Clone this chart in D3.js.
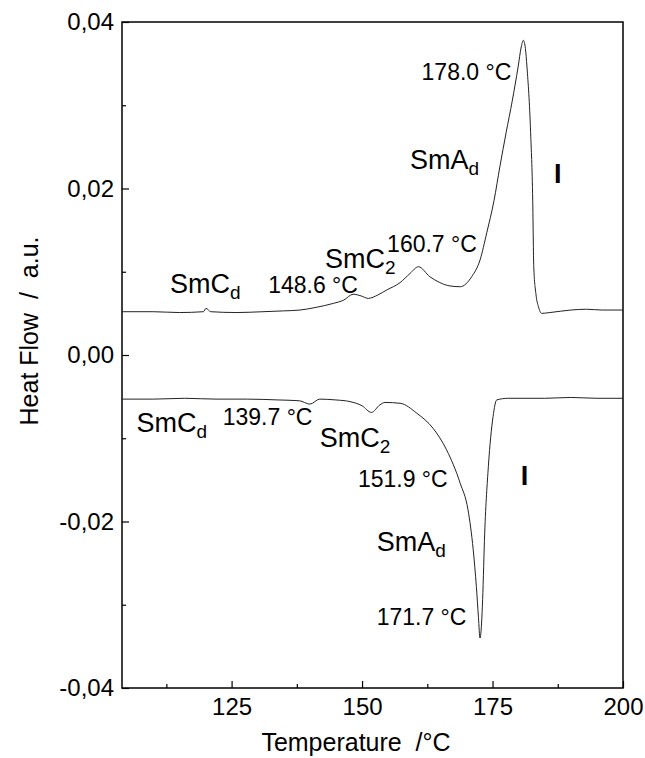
<!DOCTYPE html>
<html>
<head>
<meta charset="utf-8">
<script src="https://cdn.jsdelivr.net/npm/d3@7"></script>
<style>
  body { margin: 0; background: #fff; }
  svg { display: block; }
</style>
</head>
<body>
<div id="chart"></div>
<script>
// heating run (upper trace), [temperature °C, heat flow a.u.]
const heatingT = [104, 110, 115, 119.6, 120.1, 121, 126, 131, 135, 138.1, 141, 144.5, 146.5, 148.3, 149.8, 151.2, 153, 154.7, 157.3, 159.2, 160.8, 163.0, 164.9, 166.8, 168.8, 171.0, 172.6, 173.9, 175.3, 176.4, 177.6, 178.8, 179.9, 180.5, 180.9, 181.3, 181.6, 182.3, 182.7, 182.9, 183.3, 183.8, 184.4, 186, 190, 193, 196, 200];
const heatingV = [0.0052, 0.0052, 0.0051, 0.0052, 0.0056, 0.0052, 0.0051, 0.0052, 0.0053, 0.0054, 0.0057, 0.0062, 0.0066, 0.0073, 0.0071, 0.0068, 0.0072, 0.0078, 0.0087, 0.0098, 0.0106, 0.0094, 0.0087, 0.0083, 0.0082, 0.0094, 0.0114, 0.0147, 0.0186, 0.0226, 0.0267, 0.0306, 0.0346, 0.0370, 0.0378, 0.0368, 0.0346, 0.0267, 0.0186, 0.0106, 0.0074, 0.0058, 0.0050, 0.0051, 0.0054, 0.0055, 0.0054, 0.0054];

// cooling run (lower trace)
const coolingT = [104, 110, 116, 122, 128, 134, 138, 140.0, 141.9, 145, 147.7, 150, 151.8, 153.4, 154.4, 157.3, 160.5, 163.6, 166.2, 168.8, 170.3, 171.3, 171.9, 172.3, 172.6, 172.9, 173.1, 173.5, 174.2, 175.1, 175.8, 178, 185, 190, 195, 200];
const coolingV = [-0.0053, -0.0053, -0.0052, -0.0053, -0.0053, -0.0054, -0.0055, -0.0059, -0.0053, -0.0054, -0.0056, -0.0061, -0.0069, -0.0060, -0.0057, -0.0058, -0.0070, -0.0088, -0.0114, -0.0154, -0.0186, -0.0234, -0.0278, -0.0315, -0.0340, -0.0322, -0.0294, -0.0214, -0.0134, -0.0074, -0.0054, -0.0052, -0.0052, -0.0051, -0.0052, -0.0052];

// annotations: text, subscript, temperature, heat flow, anchor
const labelText = ["178.0 °C", "SmA", "I", "160.7 °C", "SmC", "SmC", "148.6 °C", "SmC", "139.7 °C", "SmC", "151.9 °C", "I", "SmA", "171.7 °C"];
const labelSub = ["", "d", "", "", "2", "d", "", "d", "", "2", "", "", "d", ""];
const labelT = [161.4, 159.2, 186.8, 172.0, 142.9, 113.2, 132.0, 106.8, 123.3, 141.9, 149.2, 180.4, 152.8, 152.8];
const labelV = [0.0330, 0.0224, 0.0207, 0.0124, 0.0104, 0.0074, 0.0074, -0.0092, -0.0084, -0.0110, -0.0159, -0.0156, -0.0236, -0.0324];
const labelAnchor = ["start", "start", "start", "end", "start", "start", "start", "start", "start", "start", "start", "start", "start", "start"];

const xMajor = [125, 150, 175, 200];
const xMinor = [112.5, 137.5, 162.5, 187.5];
const yMajor = [-0.04, -0.02, 0.00, 0.02, 0.04];
const yMinor = [-0.03, -0.01, 0.01, 0.03];

const width = 645, height = 758;
const margin = {top: 22, left: 122, right: 22, bottom: 70};
const font = "'Liberation Sans', Arial, Helvetica, sans-serif";

const svg = d3.select("#chart").append("svg")
  .attr("width", width)
  .attr("height", height);

const x = d3.scaleLinear().domain([104, 200]).range([margin.left, width - margin.right]);
const y = d3.scaleLinear().domain([-0.04, 0.04]).range([height - margin.bottom, margin.top]);

// comma decimals, plain hyphen for minus
const fmt = (d) => d3.format(".2f")(d).replace(".", ",").replace("\u2212", "-");

// minor ticks
svg.append("g")
  .attr("transform", `translate(0,${y(-0.04)})`)
  .call(d3.axisBottom(x).tickValues(xMinor).tickSize(-4).tickFormat(""))
  .call(g => g.select(".domain").remove());
svg.append("g")
  .attr("transform", `translate(${x(104)},0)`)
  .call(d3.axisLeft(y).tickValues(yMinor).tickSize(-4).tickFormat(""))
  .call(g => g.select(".domain").remove());

// major ticks
const xAxis = svg.append("g")
  .attr("transform", `translate(0,${y(-0.04)})`)
  .call(d3.axisBottom(x).tickValues(xMajor).tickSize(-7).tickPadding(10).tickFormat(d3.format("d")));
const yAxis = svg.append("g")
  .attr("transform", `translate(${x(104)},0)`)
  .call(d3.axisLeft(y).tickValues(yMajor).tickSize(-7).tickPadding(8).tickFormat(fmt));

[xAxis, yAxis].forEach(g => {
  g.select(".domain").remove();
  g.selectAll("text").attr("font-family", font).attr("font-size", 24).attr("fill", "#000");
});
svg.selectAll("g .tick line").attr("stroke", "#000").attr("stroke-width", 1.2);

// frame
svg.append("rect")
  .attr("x", x(104))
  .attr("y", y(0.04))
  .attr("width", x(200) - x(104))
  .attr("height", y(-0.04) - y(0.04))
  .attr("fill", "none")
  .attr("stroke", "#000")
  .attr("stroke-width", 1.5);

// traces
const line = d3.line()
  .x(d => x(d[0]))
  .y(d => y(d[1]))
  .curve(d3.curveMonotoneX);

svg.append("path")
  .datum(heatingT.map((t, i) => [t, heatingV[i]]))
  .attr("d", line)
  .attr("fill", "none")
  .attr("stroke", "#222")
  .attr("stroke-width", 1);

svg.append("path")
  .datum(coolingT.map((t, i) => [t, coolingV[i]]))
  .attr("d", line)
  .attr("fill", "none")
  .attr("stroke", "#222")
  .attr("stroke-width", 1);

// annotations
const labels = svg.append("g");
labelText.forEach((txt, i) => {
  const isTemp = txt.indexOf("°C") >= 0;
  const t = labels.append("text")
    .attr("x", x(labelT[i]))
    .attr("y", y(labelV[i]))
    .attr("text-anchor", labelAnchor[i])
    .attr("font-family", font)
    .attr("font-size", isTemp ? 23 : 27)
    .attr("font-weight", txt === "I" ? "bold" : "normal")
    .attr("fill", "#000");
  t.append("tspan").text(txt);
  if (labelSub[i]) {
    t.append("tspan")
      .attr("dy", 6)
      .attr("font-size", 19)
      .text(labelSub[i]);
  }
});

// axis titles
svg.append("text")
  .attr("x", 356)
  .attr("y", 751)
  .attr("text-anchor", "middle")
  .attr("font-family", font)
  .attr("font-size", 25)
  .style("white-space", "pre")
  .text("Temperature  /°C");

svg.append("text")
  .attr("transform", `translate(38,331) rotate(-90)`)
  .attr("text-anchor", "middle")
  .attr("font-family", font)
  .attr("font-size", 25)
  .style("white-space", "pre")
  .text("Heat Flow  /  a.u.");
</script>
</body>
</html>
